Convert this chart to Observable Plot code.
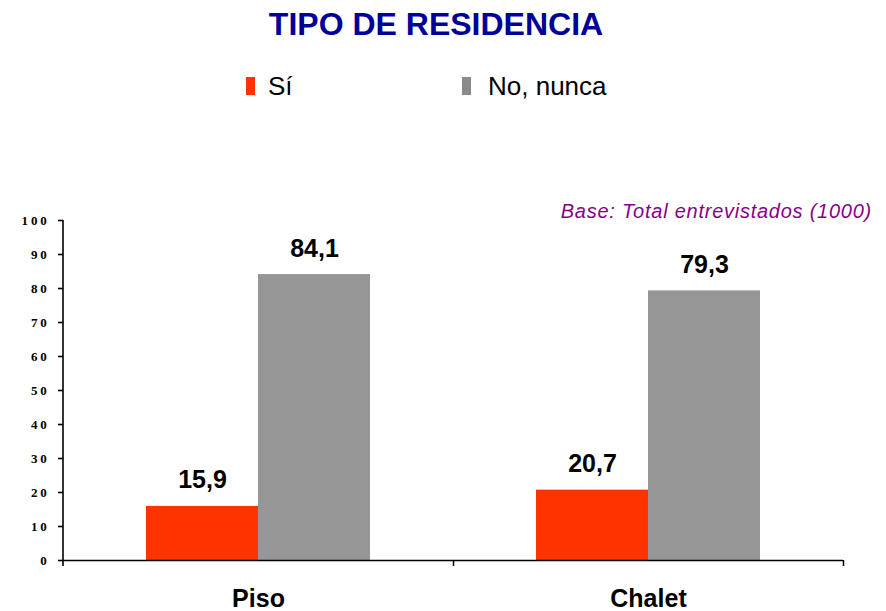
<!DOCTYPE html>
<html><head><meta charset="utf-8">
<script src="https://cdn.jsdelivr.net/npm/d3@7"></script>
<script src="https://cdn.jsdelivr.net/npm/@observablehq/plot@0.6"></script>
<style>
body{margin:0;background:#fff;}
#wrap{position:relative;width:886px;height:611px;overflow:hidden;font-family:Arial,"Liberation Sans",sans-serif;background:#fff;}
#title{position:absolute;z-index:2;left:0;width:872px;top:8px;text-align:center;font-size:32px;line-height:32px;font-weight:bold;color:#000099;}
.leg{position:absolute;z-index:2;top:73px;font-size:26px;line-height:26px;color:#000;white-space:nowrap;}
.sw{position:absolute;z-index:2;top:77px;width:9px;height:18px;}
#base{position:absolute;z-index:2;right:14px;top:201px;font-size:20px;line-height:20px;font-style:italic;color:#880088;letter-spacing:0.75px;white-space:nowrap;}
#chart{position:absolute;z-index:1;left:0;top:150px;}
g[aria-label="y-axis tick label"] text{font-family:"Liberation Serif","Times New Roman",serif;font-weight:bold;font-size:13px;letter-spacing:2.8px;}
</style>
</head>
<body>
<div id="wrap">
  <div id="title">TIPO DE RESIDENCIA</div>
  <div id="legend"></div>
  <div id="base">Base: Total entrevistados (1000)</div>
  <div id="chart"></div>
</div>
<script>
const categories = ["Piso", "Chalet"];
const series = ["Sí", "No, nunca"];
const siValues = [15.9, 20.7];
const noValues = [84.1, 79.3];
const yTicks = [0, 10, 20, 30, 40, 50, 60, 70, 80, 90, 100];
const barColors = ["#FF3300", "#969696"];
const swatchColors = ["#FF3300", "#8a8a8a"];

const data = [];
categories.forEach((c, i) => {
  data.push({cat: c, series: series[0], value: siValues[i]});
  data.push({cat: c, series: series[1], value: noValues[i]});
});

// legend (HTML)
const legend = document.getElementById("legend");
const swLeft = [246, 462], txtLeft = [268, 488];
series.forEach((s, i) => {
  const sw = document.createElement("div");
  sw.className = "sw"; sw.style.left = swLeft[i] + "px"; sw.style.background = swatchColors[i];
  legend.appendChild(sw);
  const t = document.createElement("div");
  t.className = "leg"; t.style.left = txtLeft[i] + "px"; t.textContent = s;
  legend.appendChild(t);
});

const W = 886, H = 461, mL = 63, mR = 43, mT = 70, mB = 51;
const bw = (W - mL - mR) / categories.length;
const fmt = v => v.toFixed(1).replace(".", ",");
const FONT = 'Arial, "Liberation Sans", sans-serif';

const chart = Plot.plot({
  width: W, height: H,
  marginLeft: mL, marginRight: mR, marginTop: mT, marginBottom: mB,
  style: {background: "transparent", fontFamily: FONT, color: "#000"},
  fx: {domain: categories, padding: 0, axis: null, label: null},
  x: {domain: series, paddingInner: 0, paddingOuter: 0.74, axis: null, label: null},
  y: {domain: [0, 100], axis: null, label: null},
  color: {domain: series, range: barColors},
  marks: [
    Plot.barY(data, {fx: "cat", x: "series", y: "value", fill: "series"}),
    Plot.ruleY([0], {stroke: "#000", strokeWidth: 1.5}),
    Plot.axisY({ticks: yTicks, tickSize: 5, tickPadding: 9, strokeWidth: 1.6, fontWeight: "bold", fontSize: 13, label: null, tickFormat: d => String(d)}),
    Plot.axisFx({anchor: "bottom", tickSize: 6, text: null, dx: bw / 2, strokeWidth: 1.5, label: null}),
    Plot.axisFx({anchor: "bottom", tickSize: 0, tickPadding: 29, fontSize: 25, fontWeight: "bold", fontFamily: FONT, label: null}),
    Plot.text(data, {fx: "cat", x: "series", y: "value", text: d => fmt(d.value), dy: -18, lineAnchor: "bottom", fontSize: 25, fontWeight: "bold", fontFamily: FONT, fill: "#000"})
  ]
});

// y-axis domain line (extends slightly below the baseline like a tick), from the plot's own scales
const ys = chart.scale("y");
const fxs = chart.scale("fx");
const x0 = fxs.range[0];
d3.select(chart).append("line")
  .attr("x1", x0).attr("x2", x0)
  .attr("y1", ys.apply(ys.domain[1])).attr("y2", ys.apply(ys.domain[0]) + 6)
  .attr("stroke", "#000").attr("stroke-width", 1.6);

document.getElementById("chart").appendChild(chart);
</script>
</body></html>
